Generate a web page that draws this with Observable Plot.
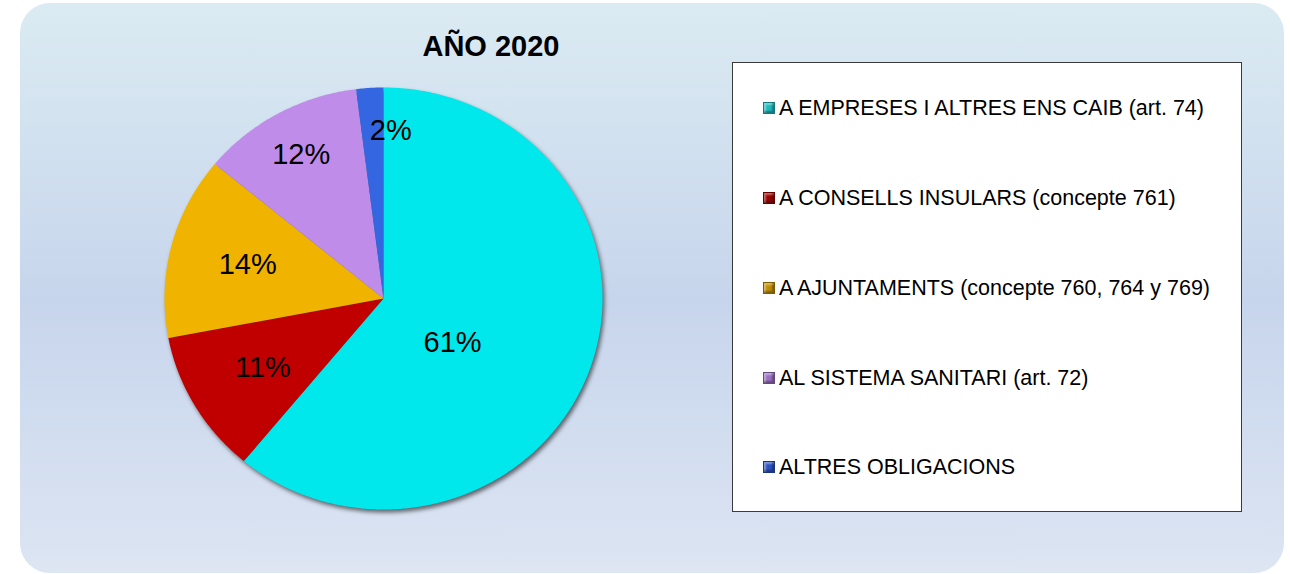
<!DOCTYPE html>
<html>
<head>
<meta charset="utf-8">
<script src="https://cdn.jsdelivr.net/npm/d3@7"></script>
<script src="https://cdn.jsdelivr.net/npm/@observablehq/plot@0.6"></script>
<style>
  html, body { margin: 0; padding: 0; background: #ffffff; }
  #wrap { position: relative; width: 1290px; height: 574px; overflow: hidden; font-family: "Liberation Sans", Arial, sans-serif; }
  #bg { position: absolute; left: 20px; top: 3px; width: 1264px; height: 570px; border-radius: 30px;
        background: linear-gradient(to bottom, #dbebf2 0%, #c7d5ec 52%, #dae3f2 95%, #dee6f3 100%); }
  #title { position: absolute; left: 0; width: 982px; top: 29px; text-align: center; font-weight: bold; font-size: 29px; line-height: 34px; color: #000; }
  #chart { position: absolute; left: 0; top: 0; }
  #chart svg { background: transparent; overflow: visible; }
  #chart g[aria-label="line"] { filter: drop-shadow(2px 3px 2px rgba(0,0,0,0.55)); }
  #legend { position: absolute; left: 732px; top: 62px; width: 508px; height: 448px; background: #fff; border: 1px solid #3a3a3a; }
  .item { position: absolute; left: 30px; font-size: 21.5px; line-height: 26px; color: #000; white-space: nowrap; display: flex; align-items: center; }
  .sw { width: 12px; height: 12px; margin-right: 4px; box-sizing: border-box; border: 1px solid rgba(0,0,0,0.35); box-shadow: inset -2px -2px 2px rgba(0,0,0,0.35), inset 2px 2px 2px rgba(255,255,255,0.4); }
</style>
</head>
<body>
<div id="wrap">
  <div id="bg"></div>
  <div id="title">AÑO 2020</div>
  <div id="chart"></div>
  <div id="legend"></div>
</div>
<script>
const categories = [
  "A EMPRESES I ALTRES ENS CAIB (art. 74)",
  "A CONSELLS INSULARS (concepte 761)",
  "A AJUNTAMENTS (concepte 760, 764 y 769)",
  "AL SISTEMA SANITARI (art. 72)",
  "ALTRES OBLIGACIONS"
];
const values = [61, 11, 14, 12, 2];
const colors = ["#00e8ec", "#c00000", "#f0b400", "#bf8ce9", "#3366e0"];
const swatchColors = ["#1fb8bd", "#9a0000", "#c18e00", "#9a6fc2", "#2a52c0"];

const table = categories.map((c, i) => ({category: c, value: values[i]}));
const pie = d3.pie().sort(null).value(d => d.value)(table);

// slice polygons (angles from the data)
const pts = [];
for (const s of pie) {
  pts.push({category: s.data.category, x: 0, y: 0});
  const n = Math.max(2, Math.ceil((s.endAngle - s.startAngle) / (Math.PI / 360)));
  for (let k = 0; k <= n; k++) {
    const a = s.startAngle + (s.endAngle - s.startAngle) * k / n;
    pts.push({category: s.data.category, x: Math.sin(a), y: Math.cos(a)});
  }
  pts.push({category: s.data.category, x: 0, y: 0});
}

// label positions from mid-angle (best-fit style placement)
const labels = pie.map(s => {
  const m = (s.startAngle + s.endAngle) / 2;
  const big = s.data.value > 50;
  const tiny = s.data.value < 5;
  const frac = big ? 0.335 : (m > 1.65 * Math.PI ? 0.78 : 0.64);
  return {
    x: Math.sin(m) * frac,
    y: Math.cos(m) * frac,
    text: s.data.value + "%",
    big, tiny
  };
});

const cx = 383, cy = 298, rx = 219, ry = 211;
const font = {fontSize: 29, fill: "#000"};
const plot = Plot.plot({
  width: 1290,
  height: 574,
  margin: 0,
  x: {domain: [-1, 1], range: [cx - rx, cx + rx], axis: null},
  y: {domain: [-1, 1], range: [cy + ry, cy - ry], axis: null},
  color: {domain: categories, range: colors},
  style: {background: "transparent", fontFamily: "'Liberation Sans', Arial, sans-serif"},
  marks: [
    Plot.line(pts, {x: "x", y: "y", z: "category", fill: "category", stroke: null, curve: "linear"}),
    Plot.text(labels.filter(d => !d.big && !d.tiny), {x: "x", y: "y", text: "text", ...font}),
    Plot.text(labels.filter(d => d.big), {x: "x", y: "y", text: "text", dy: 20, ...font}),
    Plot.text(labels.filter(d => d.tiny), {x: "x", y: "y", text: "text", dx: 18, dy: -4, ...font})
  ]
});
document.getElementById("chart").appendChild(plot);

const legend = document.getElementById("legend");
const tops = [32, 122, 212, 302, 391];
categories.forEach((c, i) => {
  const it = document.createElement("div");
  it.className = "item";
  it.style.top = (tops[i]) + "px";
  const sw = document.createElement("span");
  sw.className = "sw";
  sw.style.background = swatchColors[i];
  const t = document.createElement("span");
  t.textContent = c;
  it.appendChild(sw);
  it.appendChild(t);
  legend.appendChild(it);
});
</script>
</body>
</html>
